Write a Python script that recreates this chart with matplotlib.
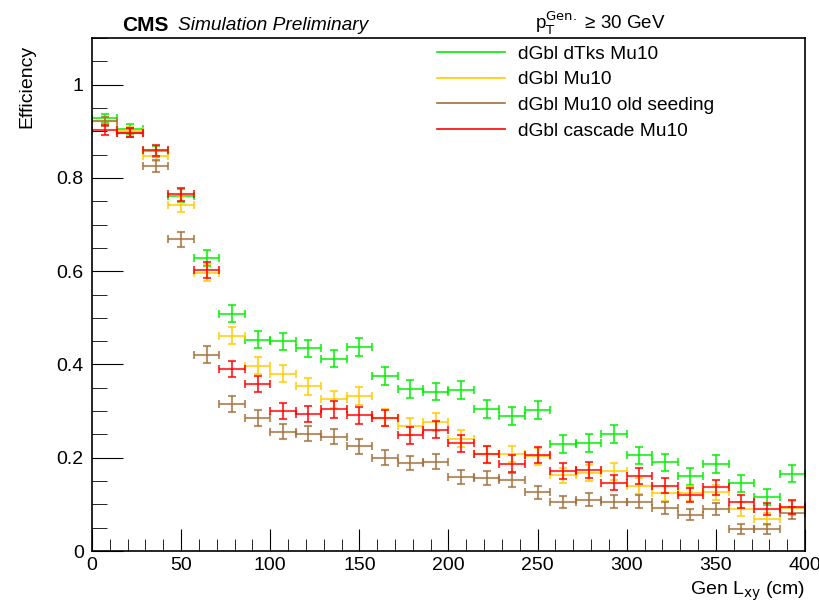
import numpy as np
import matplotlib
matplotlib.use("Agg")
import matplotlib.pyplot as plt
from matplotlib.ticker import MultipleLocator

plt.rcParams['font.family'] = ['Liberation Sans', 'DejaVu Sans']

# 28 bins from 0 to 400 cm
bin_edges = np.linspace(0, 400, 29)
centers = 0.5 * (bin_edges[:-1] + bin_edges[1:])
half_w = 0.5 * (bin_edges[1:] - bin_edges[:-1])

eff_dtks = [0.928, 0.905, 0.857, 0.762, 0.629, 0.509, 0.453, 0.450, 0.435, 0.412,
            0.438, 0.375, 0.348, 0.342, 0.345, 0.305, 0.290, 0.302, 0.229, 0.231,
            0.251, 0.205, 0.190, 0.160, 0.187, 0.145, 0.115, 0.166]
eff_mu10 = [0.921, 0.900, 0.848, 0.742, 0.597, 0.462, 0.397, 0.380, 0.353, 0.325,
            0.333, 0.286, 0.267, 0.276, 0.241, 0.207, 0.208, 0.203, 0.162, 0.167,
            0.171, 0.139, 0.124, 0.124, 0.126, 0.090, 0.068, 0.092]
eff_old = [0.921, 0.897, 0.825, 0.668, 0.421, 0.315, 0.285, 0.256, 0.251, 0.245,
           0.225, 0.200, 0.188, 0.191, 0.158, 0.156, 0.153, 0.126, 0.106, 0.110,
           0.106, 0.106, 0.093, 0.078, 0.090, 0.047, 0.047, 0.081]
eff_casc = [0.903, 0.897, 0.859, 0.765, 0.603, 0.390, 0.359, 0.300, 0.293, 0.304,
            0.291, 0.285, 0.248, 0.260, 0.231, 0.207, 0.187, 0.206, 0.171, 0.173,
            0.146, 0.161, 0.140, 0.121, 0.137, 0.106, 0.090, 0.094]

err_dtks = [0.010, 0.010, 0.012, 0.014, 0.017, 0.018, 0.018, 0.018, 0.018, 0.018,
            0.019, 0.019, 0.019, 0.019, 0.019, 0.019, 0.019, 0.020, 0.019, 0.019,
            0.020, 0.019, 0.019, 0.018, 0.019, 0.018, 0.017, 0.019]
err_mu10 = [0.010, 0.010, 0.012, 0.016, 0.018, 0.018, 0.018, 0.018, 0.018, 0.018,
            0.019, 0.018, 0.018, 0.019, 0.018, 0.018, 0.018, 0.018, 0.017, 0.017,
            0.018, 0.017, 0.016, 0.016, 0.016, 0.015, 0.013, 0.015]
err_old = [0.010, 0.010, 0.013, 0.016, 0.018, 0.017, 0.017, 0.016, 0.016, 0.016,
           0.016, 0.016, 0.015, 0.016, 0.015, 0.015, 0.015, 0.014, 0.013, 0.014,
           0.014, 0.014, 0.013, 0.012, 0.013, 0.010, 0.010, 0.013]
err_casc = [0.011, 0.010, 0.012, 0.014, 0.017, 0.017, 0.017, 0.017, 0.017, 0.018,
            0.018, 0.018, 0.018, 0.018, 0.018, 0.018, 0.018, 0.018, 0.017, 0.017,
            0.016, 0.017, 0.016, 0.015, 0.016, 0.014, 0.013, 0.015]

labels = ['dGbl dTks Mu10', 'dGbl Mu10', 'dGbl Mu10 old seeding', 'dGbl cascade Mu10']
colors = ['#00ee00', '#ffcc00', '#a0703c', '#ff0000']
series = [(eff_dtks, err_dtks), (eff_mu10, err_mu10), (eff_old, err_old), (eff_casc, err_casc)]

fig = plt.figure(figsize=(8.2, 6.03), dpi=100)
ax = fig.add_axes([0.1122, 0.0862, 0.8695, 0.8508])

for (vals, errs), col, lab in zip(series, colors, labels):
    ax.errorbar(centers, vals, xerr=half_w, yerr=errs, fmt='none', ecolor=col,
                elinewidth=1.5, capsize=3, capthick=1.5, alpha=0.75, label=lab)

ax.set_xlim(0, 400)
ax.set_ylim(0, 1.1)
ax.xaxis.set_major_locator(MultipleLocator(50))
ax.xaxis.set_minor_locator(MultipleLocator(10))
ax.yaxis.set_major_locator(MultipleLocator(0.2))
ax.yaxis.set_minor_locator(MultipleLocator(0.05))
ax.set_yticks([0, 0.2, 0.4, 0.6, 0.8, 1.0])
ax.set_yticklabels(['0', '0.2', '0.4', '0.6', '0.8', '1'])
ax.tick_params(axis='x', which='major', direction='in', length=16, labelsize=14, pad=4)
ax.tick_params(axis='x', which='minor', direction='in', length=9)
ax.tick_params(axis='y', which='major', direction='in', length=22, labelsize=14, pad=6)
ax.tick_params(axis='y', which='minor', direction='in', length=11)
for sp in ax.spines.values():
    sp.set_linewidth(1.2)

ax.set_xlabel(r'Gen L$_{\rm xy}$ (cm)', fontsize=14, loc='right', labelpad=4)
ax.set_ylabel('Efficiency', fontsize=14, ha='right')
ax.yaxis.set_label_coords(-0.079, 0.986)

fig.text(0.149, 0.958, 'CMS', fontsize=15, fontweight='bold', va='center')
fig.text(0.217, 0.958, 'Simulation Preliminary', fontsize=13.8, style='italic', va='center')
fig.text(0.652, 0.962, r'p$_{\rm T}^{\rm Gen.}$ ≥ 30 GeV', fontsize=13.5, va='center')

handles = [plt.Line2D([], [], color=c, lw=1.2) for c in colors]
ax.legend(handles, labels, loc='upper left', bbox_to_anchor=(0.484, 0.986), frameon=False,
          fontsize=13.8, handlelength=3.55, handletextpad=0.68, labelspacing=0.43,
          borderpad=0, borderaxespad=0)

fig.savefig('out.png', dpi=100)
